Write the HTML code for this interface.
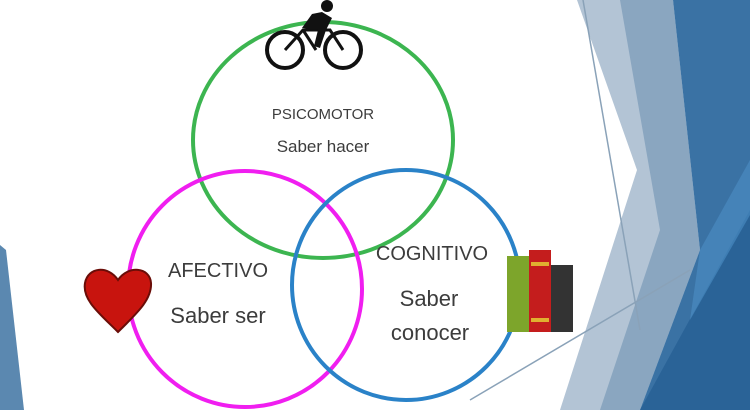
<!DOCTYPE html>
<html><head><meta charset="utf-8"><style>
html,body{margin:0;padding:0;background:#fff}
svg{display:block}
text{font-family:"Liberation Sans","DejaVu Sans",sans-serif;fill:#3c3c3c}
</style></head><body>
<svg width="750" height="410" viewBox="0 0 750 410" xmlns="http://www.w3.org/2000/svg">
<rect width="750" height="410" fill="#fff"/>
<!-- left sliver -->
<polygon points="0,245 6,250 24,410 0,410" fill="#5b88b0"/>
<!-- right background -->
<polygon points="577,0 673,0 700,250 640,410 560,410 637,170" fill="#b3c4d5"/>
<polygon points="620,0 673,0 700,250 640,410 600,410 660,230" fill="#8aa6c0"/>
<polygon points="673,0 750,0 750,410 640,410 700,250" fill="#3a72a4"/>
<polygon points="750,210 750,410 640,410" fill="#2a6397"/>
<polygon points="700,250 750,160 750,215 690,320" fill="#4d8fc6" opacity="0.6"/>
<line x1="583" y1="0" x2="640" y2="330" stroke="#8aa2b8" stroke-width="1.5"/>
<line x1="470" y1="400" x2="690" y2="270" stroke="#8aa2b8" stroke-width="1.5"/>
<!-- circles -->
<ellipse cx="323" cy="140" rx="130" ry="118" fill="none" stroke="#3cb550" stroke-width="4"/>
<ellipse cx="245" cy="289" rx="117" ry="118" fill="none" stroke="#f01ef0" stroke-width="4"/>
<ellipse cx="406" cy="285" rx="114" ry="115" fill="none" stroke="#2a82c8" stroke-width="4"/>
<!-- texts -->
<text x="323" y="119" font-size="15" text-anchor="middle">PSICOMOTOR</text>
<text x="323" y="152" font-size="17" text-anchor="middle">Saber hacer</text>
<text x="218" y="277" font-size="20" text-anchor="middle">AFECTIVO</text>
<text x="218" y="323" font-size="22" text-anchor="middle">Saber ser</text>
<text x="432" y="260" font-size="20" text-anchor="middle">COGNITIVO</text>
<text x="429" y="306" font-size="22" text-anchor="middle">Saber</text>
<text x="430" y="340" font-size="22" text-anchor="middle">conocer</text>
<!-- bicycle -->
<g stroke="#111" fill="none" stroke-width="4">
<circle cx="285" cy="50" r="18"/>
<circle cx="343" cy="50" r="18"/>
<polyline points="285,50 303,30 330,30 343,50" stroke-width="3"/>
<line x1="303" y1="30" x2="316" y2="50" stroke-width="3"/>
</g>
<circle cx="327" cy="6" r="6" fill="#111"/>
<path d="M302,28 L312,14 L322,12 L332,18 L326,30 L320,48 L314,46 L318,30 Z" fill="#111"/>
<!-- heart -->
<path d="M118,332 C100,314 82,300 85,283 C88,267 108,265 118,280 C128,265 150,267 151,283 C152,300 136,314 118,332 Z" fill="#c8140e" stroke="#6a0d08" stroke-width="2"/>
<!-- books -->
<rect x="507" y="256" width="22" height="76" fill="#7da52b"/>
<rect x="529" y="250" width="22" height="82" fill="#c41d1d"/>
<rect x="551" y="265" width="22" height="67" fill="#333"/>
<rect x="531" y="262" width="18" height="4" fill="#e0b030"/>
<rect x="531" y="318" width="18" height="4" fill="#e0b030"/>
</svg>
</body></html>
